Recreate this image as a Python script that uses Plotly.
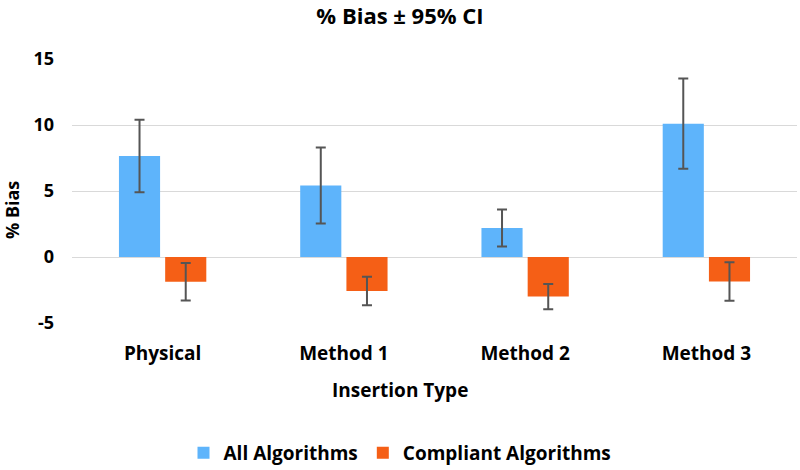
import plotly.graph_objects as go

categories = ["Physical", "Method 1", "Method 2", "Method 3"]
all_alg = [7.65, 5.42, 2.2, 10.1]
all_err = [2.74, 2.88, 1.4, 3.42]
comp_alg = [-1.87, -2.58, -3.0, -1.85]
comp_err = [1.42, 1.08, 0.95, 1.46]
y_ticks = [-5, 0, 5, 10, 15]
y_tick_labels = ["-5", "0", "5", "10", "15"]

FONT = "'Open Sans', Lato, sans-serif"
err_style = dict(type="data", thickness=2, width=5, color="#555555")

plot_l, plot_r, plot_t, plot_b = 72, 797, 59, 323  # screen pixels


def px(sx):
    return (sx - plot_l) / (plot_r - plot_l)


def py(sy):
    return (plot_b - sy) / (plot_b - plot_t)


fig = go.Figure()
fig.add_trace(go.Bar(x=categories, y=all_alg, name="All Algorithms",
                     marker=dict(color="#5EB4FB", line=dict(width=0)),
                     error_y=dict(array=all_err, **err_style)))
fig.add_trace(go.Bar(x=categories, y=comp_alg, name="Compliant Algorithms",
                     marker=dict(color="#F55F16", line=dict(width=0)),
                     error_y=dict(array=comp_err, **err_style)))

bold = dict(family=FONT, color="#000000", weight="bold")

fig.update_layout(
    width=800, height=470,
    margin=dict(l=plot_l, r=800 - plot_r, t=plot_t, b=470 - plot_b, autoexpand=False),
    paper_bgcolor="white", plot_bgcolor="white",
    barmode="group", bargap=0.49, bargroupgap=0.11,
    font=dict(family=FONT, color="#000000"),
    title=dict(text="% Bias ± 95% CI", x=0.5, xanchor="center",
               y=1 - 16 / 470, yanchor="middle", font=dict(size=22, **bold)),
    showlegend=True,
    legend=dict(orientation="h", x=px(400), xanchor="center", y=py(453), yanchor="middle",
                font=dict(size=19, **bold), itemwidth=30, traceorder="normal"),
    xaxis=dict(showgrid=False, showline=False, zeroline=False, automargin=False,
               tickfont=dict(size=19, **bold), ticklabelstandoff=17),
    yaxis=dict(range=[-5, 15], tickvals=y_ticks, ticktext=y_tick_labels,
               showgrid=True, gridcolor="#D9D9D9",
               gridwidth=1.3, zeroline=True, zerolinecolor="#D9D9D9", zerolinewidth=1.3,
               showline=False, automargin=False, tickfont=dict(size=18, **bold),
               ticklabelstandoff=17),
    annotations=[
        dict(text="% Bias", x=px(12), y=py(210), xref="paper", yref="paper",
             xanchor="center", yanchor="middle",
             showarrow=False, textangle=-90, font=dict(size=18, **bold)),
        dict(text="Insertion Type", x=px(400), y=py(390), xref="paper", yref="paper",
             xanchor="center", yanchor="middle",
             showarrow=False, font=dict(size=19, **bold)),
    ],
)

fig.write_html("out.html", config={"displayModeBar": False},
               post_script="document.body.style.margin='0';document.body.style.overflow='hidden';")
